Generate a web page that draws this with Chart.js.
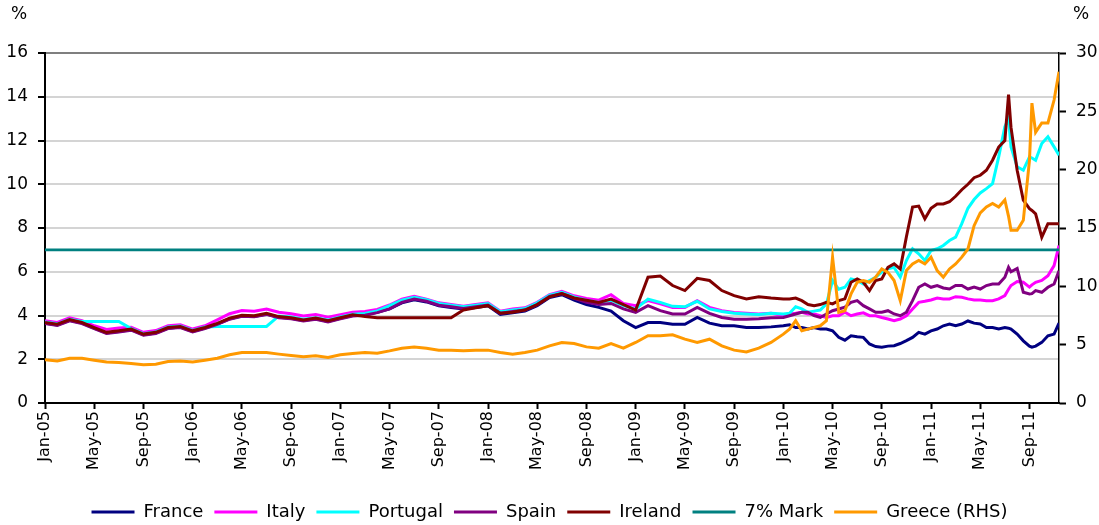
<!DOCTYPE html>
<html>
<head>
<meta charset="utf-8">
<script src="https://cdn.jsdelivr.net/npm/chart.js@4.4.1/dist/chart.umd.min.js"></script>
<style>
  html, body { margin: 0; padding: 0; background: #fff; }
  #wrap { width: 1099px; height: 525px; }
</style>
</head>
<body>
<div id="wrap"><canvas id="yieldChart" width="1099" height="525"></canvas></div>
<script>
// x positions = months since Jan-05 (monthly to end-2009, then half-monthly)
const monthNames = ["Jan", "Feb", "Mar", "Apr", "May", "Jun", "Jul", "Aug", "Sep", "Oct", "Nov", "Dec"];
const months = [];
for (let m = 0; m < 60; m++) months.push(m);
const tailMonths = [60, 60.5, 61, 61.5, 62, 62.5, 63, 63.5, 64, 64.5, 65, 65.5, 66, 66.5, 67, 67.5, 68, 68.5,
    69, 69.5, 70, 70.5, 71, 71.5, 72, 72.5, 73, 73.5, 74, 74.5, 75, 75.5, 76, 76.5, 77, 77.5, 78,
    78.3, 78.5, 79, 79.5, 80, 80.2, 80.5, 81, 81.5, 82, 82.4];
const allMonths = months.concat(tailMonths);

// 10y yields, % (left axis)
const france = [
    3.65, 3.57, 3.78, 3.65, 3.42, 3.2, 3.27, 3.35, 3.12, 3.2, 3.42, 3.47,
    3.27, 3.42, 3.61, 3.85, 3.98, 3.96, 4.07, 3.92, 3.87, 3.77, 3.85, 3.73,
    3.87, 4.0, 4.03, 4.15, 4.3, 4.58, 4.72, 4.62, 4.45, 4.37, 4.3, 4.37,
    4.45, 4.05, 4.12, 4.2, 4.45, 4.82, 4.95, 4.7, 4.5, 4.37, 4.2, 3.76,
    3.45, 3.68, 3.68, 3.6, 3.6, 3.91, 3.65, 3.53, 3.53, 3.45, 3.45, 3.48,
    3.53, 3.58, 3.45, 3.45, 3.38, 3.45, 3.38, 3.38, 3.3, 3.0, 2.87, 3.07, 3.03, 3.0, 2.7, 2.58, 2.55, 2.6,
    2.62, 2.72, 2.85, 3.0, 3.23, 3.15, 3.3, 3.38, 3.53, 3.61, 3.53, 3.61, 3.75, 3.65, 3.61, 3.45, 3.45, 3.38, 3.45,
    3.42, 3.38, 3.15, 2.84, 2.6, 2.55, 2.6, 2.77, 3.07, 3.15, 3.65
];
const italy = [
    3.76, 3.68, 3.89, 3.76, 3.53, 3.36, 3.43, 3.46, 3.23, 3.31, 3.53, 3.58,
    3.38, 3.53, 3.8, 4.08, 4.23, 4.2, 4.3, 4.15, 4.08, 3.98, 4.05, 3.92,
    4.03, 4.15, 4.18, 4.28, 4.48, 4.75, 4.88, 4.75, 4.58, 4.5, 4.42, 4.5,
    4.58, 4.2, 4.3, 4.35, 4.6, 4.95, 5.1, 4.9, 4.78, 4.7, 4.95, 4.55,
    4.45, 4.68, 4.53, 4.37, 4.37, 4.68, 4.37, 4.22, 4.14, 4.1, 4.07, 4.1,
    3.99, 4.07, 4.1, 4.15, 4.07, 4.07, 3.99, 3.91, 3.99, 3.99, 4.15, 3.99, 4.07, 4.12, 3.99, 3.99, 3.91, 3.84,
    3.76, 3.84, 3.99, 4.3, 4.6, 4.65, 4.71, 4.8, 4.76, 4.76, 4.86, 4.83, 4.76, 4.71, 4.71, 4.68, 4.68, 4.76, 4.91,
    5.2, 5.37, 5.55, 5.52, 5.3, 5.4, 5.52, 5.6, 5.82, 6.28, 7.2
];
const portugal = [
    3.7, 3.62, 3.83, 3.73, 3.73, 3.73, 3.73, 3.4, 3.17, 3.25, 3.47, 3.52,
    3.32, 3.47, 3.5, 3.5, 3.5, 3.5, 3.5, 3.98, 3.93, 3.83, 3.9, 3.79,
    3.93, 4.06, 4.09, 4.21, 4.45, 4.7, 4.83, 4.72, 4.55, 4.47, 4.4, 4.47,
    4.55, 4.17, 4.25, 4.32, 4.58, 4.93, 5.06, 4.85, 4.7, 4.6, 4.7, 4.45,
    4.3, 4.75, 4.6, 4.42, 4.4, 4.65, 4.3, 4.18, 4.1, 4.07, 4.05, 4.1,
    4.07, 4.1, 4.4, 4.3, 4.15, 4.2, 4.25, 4.53, 5.6, 5.2, 5.29, 5.67, 5.6, 5.44, 5.6, 5.75, 5.98, 6.13,
    6.2, 5.75, 6.51, 7.05, 6.82, 6.51, 6.97, 7.05, 7.2, 7.43, 7.58, 8.2, 8.9, 9.3, 9.6, 9.8, 10.03, 11.25, 12.63,
    13.0, 11.71, 10.8, 10.64, 11.25, 11.2, 11.1, 11.86, 12.17, 11.71, 11.33
];
const spain = [
    3.63, 3.55, 3.76, 3.63, 3.4, 3.18, 3.25, 3.33, 3.1, 3.18, 3.4, 3.45,
    3.25, 3.4, 3.59, 3.83, 3.96, 3.94, 4.05, 3.9, 3.85, 3.75, 3.83, 3.71,
    3.85, 3.98, 4.01, 4.13, 4.3, 4.6, 4.75, 4.65, 4.47, 4.4, 4.32, 4.4,
    4.48, 4.1, 4.18, 4.25, 4.5, 4.87, 5.0, 4.78, 4.6, 4.5, 4.55, 4.3,
    4.14, 4.45, 4.22, 4.07, 4.07, 4.37, 4.1, 3.91, 3.83, 3.83, 3.85, 3.9,
    3.91, 3.99, 4.07, 4.15, 4.15, 3.99, 3.91, 4.07, 4.22, 4.3, 4.38, 4.6, 4.68, 4.45, 4.3, 4.15, 4.15, 4.22,
    4.07, 3.99, 4.15, 4.68, 5.29, 5.44, 5.29, 5.37, 5.26, 5.21, 5.37, 5.37, 5.21, 5.3, 5.21, 5.37, 5.44, 5.44, 5.75,
    6.2, 6.0, 6.15, 5.06, 4.98, 5.0, 5.14, 5.06, 5.29, 5.44, 6.05
];
const ireland = [
    3.68, 3.6, 3.81, 3.68, 3.45, 3.23, 3.3, 3.38, 3.15, 3.23, 3.45, 3.5,
    3.3, 3.45, 3.64, 3.88, 4.01, 3.99, 4.1, 3.95, 3.9, 3.8, 3.88, 3.76,
    3.9, 4.03, 3.95, 3.9, 3.9, 3.9, 3.9, 3.9, 3.9, 3.9, 4.25, 4.35,
    4.45, 4.1, 4.15, 4.25, 4.5, 4.85, 5.0, 4.8, 4.7, 4.6, 4.75, 4.5,
    4.25, 5.75, 5.8, 5.37, 5.14, 5.7, 5.6, 5.14, 4.91, 4.76, 4.86, 4.8,
    4.76, 4.76, 4.8, 4.68, 4.5, 4.45, 4.5, 4.6, 4.53, 4.68, 4.76, 5.52, 5.67, 5.52, 5.14, 5.6, 5.67, 6.2,
    6.36, 6.13, 7.6, 8.96, 9.0, 8.42, 8.9, 9.1, 9.1, 9.2, 9.45, 9.75, 10.0, 10.3, 10.41, 10.64, 11.1, 11.7, 12.0,
    14.1, 12.6, 10.64, 9.27, 8.88, 8.8, 8.65, 7.58, 8.2, 8.2, 8.2
];
// Greece, % (right axis)
const greece = [
    3.7, 3.6, 3.84, 3.84, 3.67, 3.52, 3.47, 3.38, 3.27, 3.33, 3.55, 3.61,
    3.52, 3.67, 3.84, 4.13, 4.33, 4.33, 4.33, 4.19, 4.07, 3.96, 4.04, 3.9,
    4.13, 4.24, 4.33, 4.27, 4.47, 4.7, 4.81, 4.7, 4.53, 4.53, 4.47, 4.53,
    4.53, 4.33, 4.19, 4.33, 4.53, 4.9, 5.19, 5.1, 4.81, 4.7, 5.1, 4.7,
    5.19, 5.76, 5.76, 5.85, 5.47, 5.19, 5.47, 4.9, 4.53, 4.38, 4.7, 5.19,
    5.9, 6.33, 7.05, 6.19, 6.33, 6.48, 6.62, 7.05, 12.5, 7.77, 7.91, 9.35, 10.35, 10.5, 10.35, 10.78, 11.49, 11.2,
    10.5, 8.77, 11.35, 11.92, 12.21, 11.92, 12.5, 11.35, 10.78, 11.49, 11.92, 12.5, 13.2, 15.2, 16.3, 16.8, 17.1, 16.8, 17.4,
    16.0, 14.8, 14.8, 15.66, 20.8, 25.7, 23.2, 24.0, 24.0, 25.97, 28.4
];
const markLevel = 7;
const xMax = 82.4;

function toPoints(values) {
    return values.map(function (v, i) { return { x: allMonths[i], y: v }; });
}

function monthLabel(m) {
    const yy = 5 + Math.floor(m / 12);
    return monthNames[m % 12] + "-" + (yy < 10 ? "0" + yy : yy);
}

// draws the two "%" captions above the axes
const percentLabels = {
    id: "percentLabels",
    afterDraw: function (chart) {
        const ctx = chart.ctx;
        ctx.save();
        ctx.font = "17px 'DejaVu Sans'";
        ctx.fillStyle = "#000";
        ctx.textBaseline = "middle";
        ctx.textAlign = "left";
        ctx.fillText("%", 11, 15);
        ctx.fillText("%", 1073, 15);
        ctx.restore();
    }
};

Chart.defaults.font.family = "'DejaVu Sans'";
Chart.defaults.color = "#000";

function line(label, values, color, order, axis) {
    return {
        label: label,
        data: toPoints(values),
        borderColor: color,
        backgroundColor: color,
        borderWidth: 3,
        pointRadius: 0,
        tension: 0,
        order: order,
        yAxisID: axis || "y"
    };
}

const ctx = document.getElementById("yieldChart").getContext("2d");
const yieldChart = new Chart(ctx, {
    type: "line",
    data: {
        datasets: [
            line("France", france, "#000080", 7),
            line("Italy", italy, "#FF00FF", 6),
            line("Portugal", portugal, "#00FFFF", 5),
            line("Spain", spain, "#800080", 4),
            line("Ireland", ireland, "#800000", 3),
            {
                label: "7% Mark",
                data: [{ x: 0, y: markLevel }, { x: xMax, y: markLevel }],
                borderColor: "#008080",
                backgroundColor: "#008080",
                borderWidth: 2.6,
                pointRadius: 0,
                order: 2,
                yAxisID: "y"
            },
            line("Greece (RHS)", greece, "#FF9900", 1, "y1")
        ]
    },
    plugins: [percentLabels],
    options: {
        responsive: false,
        animation: false,
        layout: { padding: { top: 53, left: 0, right: 0, bottom: -6 } },
        scales: {
            x: {
                type: "linear",
                min: 0,
                max: xMax,
                afterFit: function (s) { s.height = 89; },
                ticks: {
                    stepSize: 4,
                    includeBounds: false,
                    autoSkip: false,
                    minRotation: 90,
                    maxRotation: 90,
                    padding: 2,
                    font: { size: 16 },
                    callback: function (v) { return monthLabel(v); }
                },
                grid: { drawOnChartArea: false, drawTicks: true, tickLength: 6, tickColor: "#000", tickWidth: 2 },
                border: { color: "#000", width: 2 }
            },
            y: {
                position: "left",
                min: 0,
                max: 16,
                afterFit: function (s) { s.width = 45; },
                ticks: { stepSize: 2, padding: 10, font: { size: 17 } },
                grid: {
                    color: function (c) { return c.tick && c.tick.value === 16 ? "#7f7f7f" : "#d4d4d4"; },
                    lineWidth: 2,
                    tickLength: 7,
                    tickColor: "#000",
                    tickWidth: 2
                },
                border: { color: "#000", width: 2 }
            },
            y1: {
                position: "right",
                min: 0,
                max: 30,
                afterFit: function (s) { s.width = 40; },
                ticks: { stepSize: 5, padding: 10, font: { size: 17 } },
                grid: { drawOnChartArea: false, tickLength: 7, tickColor: "#000", tickWidth: 2 },
                border: { color: "#000", width: 1.5 }
            }
        },
        plugins: {
            tooltip: { enabled: false },
            legend: {
                position: "bottom",
                labels: {
                    boxWidth: 43,
                    boxHeight: 3,
                    padding: 11,
                    font: { size: 18 },
                    sort: function (a, b) { return a.datasetIndex - b.datasetIndex; },
                    generateLabels: function (chart) {
                        const items = Chart.defaults.plugins.legend.labels.generateLabels(chart);
                        items.forEach(function (it) {
                            it.lineWidth = 0;
                            it.fillStyle = it.strokeStyle;
                        });
                        return items;
                    }
                }
            }
        }
    }
});
</script>
</body>
</html>
